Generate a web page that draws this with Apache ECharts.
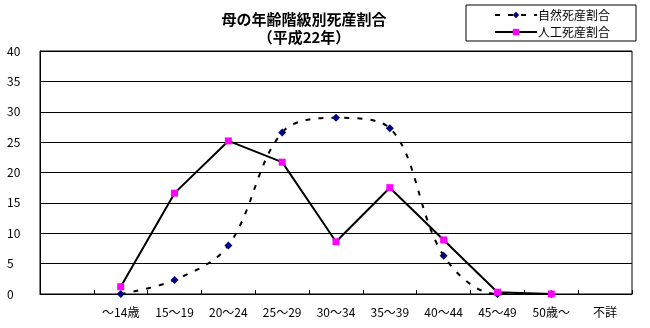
<!DOCTYPE html>
<html>
<head>
<meta charset="utf-8">
<style>
  html, body { margin: 0; padding: 0; background: #fff; }
  #chart { width: 650px; height: 328px; }
</style>
<script src="https://cdn.jsdelivr.net/npm/echarts@6/dist/echarts.min.js"></script>
</head>
<body>
<div id="chart"></div>
<script>
// 母の年齢階級別死産割合（平成22年）, percent of stillbirths by mother's age group
const categories = ['', '～14歳', '15～19', '20～24', '25～29', '30～34', '35～39', '40～44', '45～49', '50歳～', '不詳'];
const naturalRate = [null, 0.0, 2.3, 8.0, 26.6, 29.0, 27.3, 6.3, 0.0, 0.0, null];
const artificialRate = [null, 1.2, 16.6, 25.2, 21.7, 8.6, 17.5, 8.9, 0.3, 0.0, null];
const yTicks = { min: 0, max: 40, step: 5 };
const seriesNames = ['自然死産割合', '人工死産割合'];
const titleText = '母の年齢階級別死産割合\n（平成22年）';

const font = '"Noto Sans CJK JP", "Noto Sans", sans-serif';
const chart = echarts.init(document.getElementById('chart'), null, { renderer: 'canvas' });

chart.setOption({
  animation: false,
  backgroundColor: '#ffffff',
  textStyle: { fontFamily: font, color: '#000' },
  title: {
    text: titleText,
    left: 299,
    top: 5,
    textAlign: 'center',
    textStyle: { fontFamily: font, fontSize: 15, fontWeight: 'bold', color: '#000', lineHeight: 18 }
  },
  legend: {
    orient: 'vertical',
    left: 466,
    top: 5,
    width: 173,
    padding: [4, 26, 3, 28],
    borderColor: '#000',
    borderWidth: 1,
    itemWidth: 42,
    itemHeight: 8,
    itemGap: 5,
    textStyle: { fontFamily: font, fontSize: 12, color: '#000', padding: [0, 0, 0, -4] },
    data: seriesNames
  },
  grid: { left: 40, right: 18, top: 51, bottom: 34, show: true, borderColor: '#000', borderWidth: 1, backgroundColor: '#fff' },
  xAxis: {
    type: 'category',
    data: categories,
    boundaryGap: true,
    axisLine: { lineStyle: { color: '#000', width: 1 } },
    axisTick: { show: true, inside: true, length: 4, lineStyle: { color: '#000' } },
    axisLabel: { interval: 0, fontSize: 12, color: '#000', margin: 12, fontFamily: font }
  },
  yAxis: {
    type: 'value',
    min: yTicks.min,
    max: yTicks.max,
    interval: yTicks.step,
    axisLine: { show: true, lineStyle: { color: '#000', width: 1 } },
    axisTick: { show: false },
    splitLine: { show: true, lineStyle: { color: '#000', width: 1 } },
    axisLabel: { fontSize: 12, color: '#000', align: 'left', margin: 33, fontFamily: font }
  },
  series: [
    {
      name: seriesNames[0],
      type: 'line',
      data: naturalRate,
      smooth: 0.35,
      symbol: 'diamond',
      symbolSize: 8,
      itemStyle: { color: '#000080' },
      lineStyle: { color: '#000', width: 2, type: [5, 8] },
      z: 2
    },
    {
      name: seriesNames[1],
      type: 'line',
      data: artificialRate,
      symbol: 'rect',
      symbolSize: 7,
      itemStyle: { color: '#ff00ff' },
      lineStyle: { color: '#000', width: 2 },
      z: 3
    }
  ]
});
</script>
</body>
</html>
